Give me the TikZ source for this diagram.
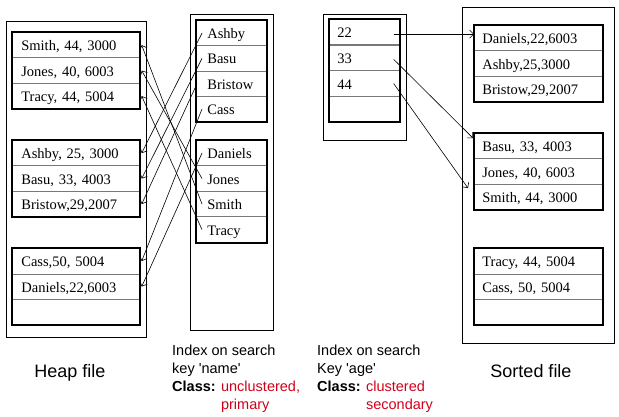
\documentclass[tikz,border=0pt]{standalone}
\usepackage{fontspec}
\setmainfont{Liberation Serif}
\newfontfamily\sansf{Liberation Sans}
\usetikzlibrary{arrows.meta}
\definecolor{lblred}{RGB}{208,2,27}
\definecolor{sepgray}{RGB}{120,120,120}
\begin{document}
\begin{tikzpicture}[x=1pt,y=-1pt,
  rowbase/.style={anchor=north west, minimum height=25.5pt, inner ysep=0pt,
    align=left, draw=sepgray, line width=0.7pt, text height=13pt, text depth=2pt,
    font=\fontsize{14.5}{16}\selectfont},
  hrow/.style={rowbase, minimum width=127pt, text width=109pt, inner xsep=9pt},
  irow/.style={rowbase, minimum width=70pt, text width=48pt, inner xsep=11pt},
  arow/.style={rowbase, minimum width=70pt, text width=54pt, inner xsep=8pt},
  srow/.style={rowbase, minimum width=128pt, text width=112pt, inner xsep=8pt},
  page/.style={draw=black, line width=1.8pt},
  outer/.style={draw=black, line width=0.9pt},
  ptr/.style={draw=black, line width=0.6pt, -{Straight Barb[length=4pt,width=8pt]}},
  lbl/.style={font=\sansf\fontsize{14.5}{18}\selectfont, align=left, inner sep=0pt, anchor=north west},
  ttl/.style={font=\sansf\fontsize{18}{20}\selectfont, inner sep=0pt, anchor=base}
]
\useasboundingbox (0,0) rectangle (619,417);

% outer boxes
\draw[outer] (6,21) rectangle (146,337);
\draw[outer] (190,14) rectangle (273,330);
\draw[outer] (323,14) rectangle (406,140);
\draw[outer] (462,7) rectangle (614,343);

% heap file
\node[hrow] (hSmith) at (12,32) {Smith, 44, 3000};
\node[hrow] (hJones) at (12,57.5) {Jones, 40, 6003};
\node[hrow] (hTracy) at (12,83) {Tracy, 44, 5004};
\node[hrow] (hAshby) at (12,140) {Ashby, 25, 3000};
\node[hrow] (hBasu) at (12,165.5) {Basu, 33, 4003};
\node[hrow] (hBristow) at (12,191) {Bristow,29,2007};
\node[hrow] (hCass) at (12,248) {Cass,50, 5004};
\node[hrow] (hDaniels) at (12,273.5) {Daniels,22,6003};
\node[hrow] (hEmpty) at (12,299) {};
\draw[page] (hSmith.north west) rectangle (hTracy.south east);
\draw[page] (hAshby.north west) rectangle (hBristow.south east);
\draw[page] (hCass.north west) rectangle (hEmpty.south east);

% name index
\node[irow] (iAshby) at (196,20) {Ashby};
\node[irow] (iBasu) at (196,45.3) {Basu};
\node[irow] (iBristow) at (196,70.6) {Bristow};
\node[irow] (iCass) at (196,95.9) {Cass};
\node[irow] (iDaniels) at (196,140) {Daniels};
\node[irow] (iJones) at (196,165.5) {Jones};
\node[irow] (iSmith) at (196,191) {Smith};
\node[irow] (iTracy) at (196,216.5) {Tracy};
\draw[page] (iAshby.north west) rectangle (iCass.south east);
\draw[page] (iDaniels.north west) rectangle (iTracy.south east);

% age index
\node[arow] (a22) at (329,19) {22};
\node[arow] (a33) at (329,44.8) {33};
\node[arow] (a44) at (329,70.5) {44};
\node[arow] (aEmpty) at (329,96.2) {};
\draw[page] (a22.north west) rectangle (aEmpty.south east);

% sorted file
\node[srow] (sDaniels) at (474,25) {Daniels,22,6003};
\node[srow] (sAshby) at (474,50.5) {Ashby,25,3000};
\node[srow] (sBristow) at (474,76) {Bristow,29,2007};
\node[srow] (sBasu) at (474,133) {Basu, 33, 4003};
\node[srow] (sJones) at (474,158.5) {Jones, 40, 6003};
\node[srow] (sSmith) at (474,184) {Smith, 44, 3000};
\node[srow] (sTracy) at (474,248) {Tracy, 44, 5004};
\node[srow] (sCass) at (474,273.5) {Cass, 50, 5004};
\node[srow] (sEmpty) at (474,299) {};
\draw[page] (sDaniels.north west) rectangle (sBristow.south east);
\draw[page] (sBasu.north west) rectangle (sSmith.south east);
\draw[page] (sTracy.north west) rectangle (sEmpty.south east);

% name index pointers
\draw[ptr] ([xshift=6pt]iAshby.west) -- ([xshift=2pt]hAshby.east);
\draw[ptr] ([xshift=6pt]iBasu.west) -- ([xshift=2pt]hBasu.east);
\draw[ptr] ([xshift=1pt]iBristow.west) -- ([xshift=2pt]hBristow.east);
\draw[ptr] ([xshift=6pt]iCass.west) -- ([xshift=2pt]hCass.east);
\draw[ptr] ([xshift=6pt]iDaniels.west) -- ([xshift=2pt]hDaniels.east);
\draw[ptr] ([xshift=6pt]iJones.west) -- ([xshift=2pt]hJones.east);
\draw[ptr] ([xshift=6pt]iSmith.west) -- ([xshift=2pt]hSmith.east);
\draw[ptr] ([xshift=6pt]iTracy.west) -- ([xshift=2pt]hTracy.east);

% age index pointers
\draw[ptr] ([xshift=-6pt,yshift=-2pt]a22.east) -- ([yshift=4pt]sDaniels.west);
\draw[ptr] ([xshift=-6pt,yshift=-1.5pt]a33.east) -- ([xshift=-1pt,yshift=8pt]sBasu.west);
\draw[ptr] ([xshift=-6pt]a44.east) -- ([xshift=-6pt,yshift=9pt]sSmith.west);

% labels
\node[ttl] (tHeap) at (70,377) {Heap file};
\node[ttl] (tSorted) at (531,377) {Sorted file};
\node[lbl] (lName) at (172,344.5) {Index on search\\key \textquotesingle name\textquotesingle\\\textbf{Class:} \textcolor{lblred}{unclustered,}\\\phantom{\textbf{Class:} }\textcolor{lblred}{primary}};
\node[lbl] (lAge) at (317,344.5) {Index on search\\Key \textquotesingle age\textquotesingle\\\textbf{Class:} \textcolor{lblred}{clustered}\\\phantom{\textbf{Class:} }\textcolor{lblred}{secondary}};
\end{tikzpicture}
\end{document}
